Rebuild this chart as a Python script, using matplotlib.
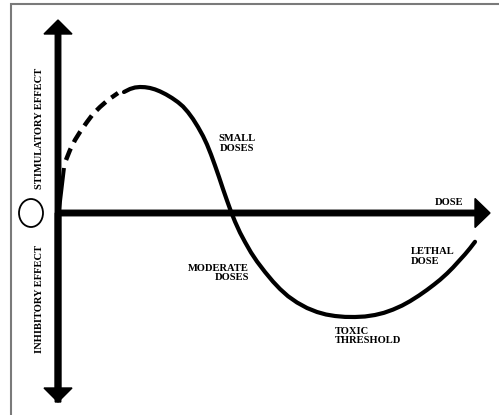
import matplotlib
matplotlib.use("Agg")
import matplotlib.pyplot as plt
from matplotlib.patches import Ellipse

# Схематичная кривая "доза - эффект" (гормезис), координаты от начала осей
dose_rise = [1, 6]
effect_rise = [3, 45]

dose_dashed = [8, 12, 17, 22, 29, 35, 42, 50, 60]
effect_dashed = [53, 63, 73, 81, 91, 99, 106, 113, 120]

dose_solid = [66, 72, 77, 82, 87, 92, 97, 102, 108, 114, 120, 125, 130,
              135, 140, 145, 149, 153, 157, 161, 165, 169, 173, 177, 182,
              187, 193, 199, 207, 215, 222, 230, 239, 249, 259, 268, 277,
              287, 297, 307, 317, 326, 335, 344, 352, 361, 369, 376, 382,
              389, 395, 401, 407, 412, 417]
effect_solid = [121, 124, 125.5, 126, 125.8, 125, 123.6, 121.6, 118.6,
                115, 110.8, 106.5, 100.8, 94, 86, 77, 68.5, 58.5, 47.5,
                36, 24, 12.5, 1.4, -8.6, -19.6, -29, -39.5, -48.5, -59,
                -68.6, -76, -83.2, -89.5, -95, -99, -101.5, -103, -103.9,
                -104, -103.5, -102, -99.8, -96.6, -92.6, -88.2, -82.5,
                -76.9, -71.6, -66.8, -60.5, -54.5, -47.9, -41.3, -35.3,
                -28.8]

label_font = dict(family="Liberation Serif", fontweight="bold",
                  fontsize=7.6, color="black", linespacing=1.1)

fig = plt.figure(figsize=(4.99, 4.15), dpi=100)
ax = fig.add_axes([0, 0, 1, 1])
ax.set_xlim(-58, 441)
ax.set_ylim(-202, 213)
ax.axis("off")

# рамка картинки
ax.plot([-47, -47, 441], [-202, 209, 209], color="#7a7a7a", lw=1.5,
        solid_joinstyle="miter")

# оси со стрелками
ax.arrow(-2, 0, 434, 0, width=5.5, head_width=29, head_length=15,
         length_includes_head=True, color="black")
ax.arrow(0, -189, 0, 382, width=5.5, head_width=28, head_length=14,
         length_includes_head=True, color="black")
ax.arrow(0, 0, 0, -189, width=5.5, head_width=28, head_length=14,
         length_includes_head=True, color="black")

# кружок "0"
ax.add_patch(Ellipse((-27, 0), 24, 28, fill=False, lw=1.3, color="black"))

# кривая
ax.plot(dose_rise, effect_rise, color="black", lw=2.8,
        solid_capstyle="butt")
ax.plot(dose_dashed, effect_dashed, color="black", lw=3.2,
        linestyle=(0, (2.8, 1.6)), dash_capstyle="butt")
ax.plot(dose_solid, effect_solid, color="black", lw=3,
        solid_capstyle="round", solid_joinstyle="round")

# подписи
ax.text(-18, 85, "STIMULATORY EFFECT", rotation=90, ha="center",
        va="center", **label_font)
ax.text(-18, -86, "INHIBITORY EFFECT", rotation=90, ha="center",
        va="center", **label_font)
ax.text(179, 69.5, "SMALL\nDOSES", ha="center", va="center",
        multialignment="center", **label_font)
ax.text(191, -60, "MODERATE\nDOSES", ha="right", va="center",
        multialignment="right", **label_font)
ax.text(391, 11, "DOSE", ha="center", va="center", **label_font)
ax.text(353, -43.5, "LETHAL\nDOSE", ha="left", va="center",
        multialignment="left", **label_font)
ax.text(277, -123, "TOXIC\nTHRESHOLD", ha="left", va="center",
        multialignment="left", **label_font)

fig.savefig("out.png", dpi=100)
plt.close(fig)
